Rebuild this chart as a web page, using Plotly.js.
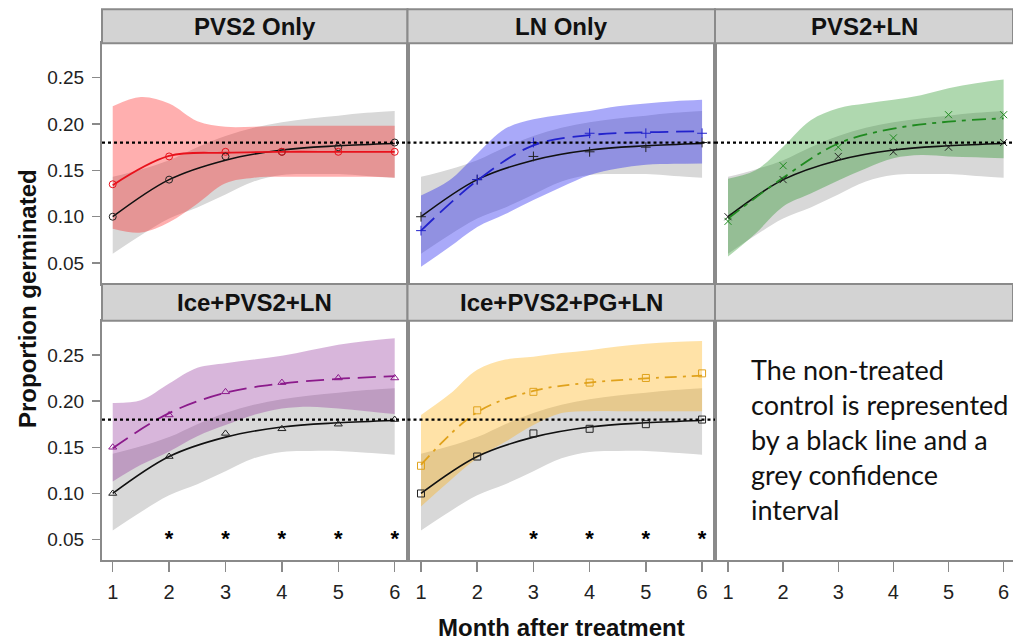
<!DOCTYPE html>
<html><head><meta charset="utf-8">
<script src="https://cdn.plot.ly/plotly-3.0.1.min.js"></script>
<style>html,body{margin:0;padding:0;background:#fff;overflow:hidden}</style>
</head><body><div id="chart" style="width:1013px;height:643px"></div>
<script>
// ---------- data ----------
const months = [1, 2, 3, 4, 5, 6];
const bandMonths = [1, 1.5, 2, 2.5, 3, 3.5, 4, 4.5, 5, 5.5, 6];
const panelTitles = ['PVS2 Only', 'LN Only', 'PVS2+LN', 'Ice+PVS2+LN', 'Ice+PVS2+PG+LN'];
const yTickVals = [0.05, 0.10, 0.15, 0.20, 0.25];
const yTickText = ['0.05', '0.10', '0.15', '0.20', '0.25'];
const refLevel = 0.18;

const controlObs = [0.10, 0.14, 0.165, 0.17, 0.175, 0.18];
const controlFit = [0.100, 0.140, 0.161, 0.172, 0.1765, 0.179];
const controlUpper = [0.143, 0.151, 0.161, 0.175, 0.187, 0.196, 0.202, 0.206, 0.209, 0.212, 0.214];
const controlLower = [0.060, 0.080, 0.098, 0.110, 0.124, 0.138, 0.145, 0.146, 0.146, 0.144, 0.142];

const pvs2Obs = [0.135, 0.165, 0.17, 0.17, 0.17, 0.17];
const pvs2Fit = [0.134, 0.1655, 0.169, 0.17, 0.17, 0.17];
const pvs2Upper = [0.219, 0.229, 0.222, 0.203, 0.197, 0.197, 0.198, 0.198, 0.198, 0.198, 0.198];
const pvs2Lower = [0.087, 0.083, 0.094, 0.114, 0.136, 0.142, 0.143, 0.143, 0.143, 0.143, 0.142];

const lnObs = [0.085, 0.14, 0.18, 0.19, 0.19, 0.19];
const lnFit = [0.085, 0.139, 0.177, 0.188, 0.191, 0.192];
const lnUpper = [0.123, 0.139, 0.168, 0.195, 0.205, 0.210, 0.214, 0.219, 0.222, 0.2245, 0.226];
const lnLower = [0.046, 0.067, 0.089, 0.103, 0.118, 0.132, 0.145, 0.152, 0.156, 0.157, 0.1575];

const pvs2lnObs = [0.095, 0.155, 0.175, 0.185, 0.21, 0.21];
const pvs2lnFit = [0.098, 0.142, 0.179, 0.195, 0.2025, 0.206];
const pvs2lnUpper = [0.141, 0.150, 0.1755, 0.204, 0.217, 0.222, 0.226, 0.231, 0.2385, 0.244, 0.248];
const pvs2lnLower = [0.057, 0.082, 0.111, 0.125, 0.139, 0.152, 0.163, 0.1665, 0.165, 0.164, 0.163];

const iceLnObs = [0.15, 0.185, 0.21, 0.22, 0.225, 0.225];
const iceLnFit = [0.149, 0.187, 0.209, 0.219, 0.224, 0.227];
const iceLnUpper = [0.198, 0.201, 0.219, 0.236, 0.241, 0.245, 0.249, 0.255, 0.261, 0.265, 0.268];
const iceLnLower = [0.113, 0.131, 0.1455, 0.162, 0.174, 0.185, 0.192, 0.194, 0.192, 0.189, 0.186];

const icePgObs = [0.13, 0.19, 0.21, 0.22, 0.225, 0.23];
const icePgFit = [0.131, 0.188, 0.211, 0.220, 0.2245, 0.2275];
const icePgUpper = [0.185, 0.207, 0.234, 0.245, 0.248, 0.252, 0.255, 0.259, 0.262, 0.264, 0.265];
const icePgLower = [0.086, 0.113, 0.138, 0.156, 0.174, 0.187, 0.189, 0.189, 0.189, 0.189, 0.189];

const sigMonthsIceLn = [2, 3, 4, 5, 6];
const sigMonthsIcePg = [3, 4, 5, 6];
const sigLevel = 0.049;

const noteText = 'The non-treated<br>control is represented<br>by a black line and a<br>grey confidence<br>interval';
const xTitle = 'Month after treatment';
const yTitle = 'Proportion germinated';

// ---------- styles ----------
const series = [
  {obs: pvs2Obs, fit: pvs2Fit, up: pvs2Upper, lo: pvs2Lower, color: '#e8121c', fill: 'rgba(255,20,20,0.34)', dash: 'solid', sym: 'circle-open'},
  {obs: lnObs, fit: lnFit, up: lnUpper, lo: lnLower, color: '#2222cc', fill: 'rgba(30,30,240,0.38)', dash: '18px,8px', sym: 'cross-thin-open'},
  {obs: pvs2lnObs, fit: pvs2lnFit, up: pvs2lnUpper, lo: pvs2lnLower, color: '#1f8a1f', fill: 'rgba(20,140,20,0.34)', dash: '14px,6px,4px,6px', sym: 'x-thin-open'},
  {obs: iceLnObs, fit: iceLnFit, up: iceLnUpper, lo: iceLnLower, color: '#8b1a8b', fill: 'rgba(140,40,150,0.34)', dash: '18px,8px', sym: 'triangle-up-open'},
  {obs: icePgObs, fit: icePgFit, up: icePgUpper, lo: icePgLower, color: '#e0a21c', fill: 'rgba(255,175,10,0.36)', dash: '12px,6px,3px,6px', sym: 'square-open'}
];
const sigByPanel = {3: sigMonthsIceLn, 4: sigMonthsIcePg};

const W = 1013, H = 643;
const px = v => v / W;
const py = v => (H - v) / H;
const colX = [[102, 407.5], [407.5, 715], [715, 1013]];
const colRange = [[0.81, 6.227], [0.76, 6.23], [0.764, 6.17]];
const rowY = [[43.3, 283.5], [320.7, 560]];
const stripY = [[9.3, 43.3], [284, 320.7]];
const yRange = [0.028, 0.287];
const border = '#8a8a8a';
const FONT = 'Liberation Sans, Arial, sans-serif';

const traces = [];
const layout = {
  width: W, height: H, margin: {l: 0, r: 0, t: 0, b: 0},
  paper_bgcolor: '#fff', plot_bgcolor: '#fff', showlegend: false,
  font: {family: FONT, color: '#111'},
  shapes: [], annotations: []
};

for (let p = 0; p < 6; p++) {
  const row = Math.floor(p / 3), col = p % 3;
  const id = p === 0 ? '' : String(p + 1);
  const xa = 'x' + id, ya = 'y' + id;
  layout['xaxis' + id] = {
    domain: [px(colX[col][0]), px(colX[col][1])], range: colRange[col], anchor: ya,
    showline: true, mirror: true, linecolor: border, linewidth: 2,
    showgrid: false, zeroline: false, tickvals: months,
    ticks: row === 1 ? 'outside' : '', ticklen: 10, tickwidth: 1.5, tickcolor: border,
    showticklabels: row === 1, ticklabelstandoff: 3, ticklabeloverflow: 'allow',
    tickfont: {family: FONT, size: 20, color: '#222'}
  };
  layout['yaxis' + id] = {
    domain: [py(rowY[row][1]), py(rowY[row][0])], range: yRange, anchor: xa,
    showline: true, mirror: true, linecolor: border, linewidth: 2,
    showgrid: false, zeroline: false, tickvals: yTickVals, ticktext: yTickText,
    ticks: col === 0 ? 'outside' : '', ticklen: 8, tickwidth: 1.5, tickcolor: border,
    showticklabels: col === 0, ticklabelstandoff: 4,
    tickfont: {family: FONT, size: 19, color: '#222'}
  };
  layout.shapes.push({type: 'rect', xref: 'paper', yref: 'paper',
    x0: px(colX[col][0]), x1: px(colX[col][1]), y0: py(stripY[row][1]), y1: py(stripY[row][0]),
    fillcolor: '#d3d3d3', line: {color: border, width: 2}, layer: 'above'});
  if (p < 5) {
    layout.annotations.push({xref: 'paper', yref: 'paper', showarrow: false,
      x: px((colX[col][0] + colX[col][1]) / 2), y: py((stripY[row][0] + stripY[row][1]) / 2),
      xanchor: 'center', yanchor: 'middle', text: panelTitles[p],
      font: {family: FONT, size: 24, color: '#111', weight: 'bold'}});
    layout.shapes.push({type: 'line', xref: xa + ' domain', yref: ya, x0: 0, x1: 1, y0: refLevel, y1: refLevel,
      line: {color: '#000', width: 2.2, dash: 'dot'}, layer: 'above'});
    const s = series[p];
    traces.push({x: bandMonths, y: controlUpper, xaxis: xa, yaxis: ya, mode: 'lines',
      line: {width: 0, shape: 'spline', smoothing: 1}, hoverinfo: 'skip'});
    traces.push({x: bandMonths, y: controlLower, xaxis: xa, yaxis: ya, mode: 'lines', fill: 'tonexty',
      fillcolor: '#d8d8d8', line: {width: 0, shape: 'spline', smoothing: 1}, hoverinfo: 'skip'});
    traces.push({x: bandMonths, y: s.up, xaxis: xa, yaxis: ya, mode: 'lines',
      line: {width: 0, shape: 'spline', smoothing: 1}, hoverinfo: 'skip'});
    traces.push({x: bandMonths, y: s.lo, xaxis: xa, yaxis: ya, mode: 'lines', fill: 'tonexty',
      fillcolor: s.fill, line: {width: 0, shape: 'spline', smoothing: 1}, hoverinfo: 'skip'});
    traces.push({x: months, y: controlFit, xaxis: xa, yaxis: ya, mode: 'lines',
      line: {color: '#111', width: 1.6, shape: 'spline', smoothing: 1}});
    traces.push({x: months, y: s.fit, xaxis: xa, yaxis: ya, mode: 'lines',
      line: {color: s.color, width: 1.8, dash: s.dash, shape: 'spline', smoothing: 1}});
    traces.push({x: months, y: controlObs, xaxis: xa, yaxis: ya, mode: 'markers',
      marker: {symbol: s.sym, size: 7, color: '#222', line: {width: 1, color: '#222'}}});
    traces.push({x: months, y: s.obs, xaxis: xa, yaxis: ya, mode: 'markers',
      marker: {symbol: s.sym, size: 7, color: s.color, line: {width: 1, color: s.color}}});
    if (sigByPanel[p]) {
      const m = sigByPanel[p];
      traces.push({x: m, y: m.map(() => sigLevel), xaxis: xa, yaxis: ya, mode: 'text',
        text: m.map(() => '*'), textposition: 'middle center',
        textfont: {family: FONT, size: 22, color: '#000', weight: 'bold'}});
    }
  } else {
    traces.push({x: [], y: [], xaxis: xa, yaxis: ya, mode: 'markers'});
  }
}

layout.annotations.push({xref: 'paper', yref: 'paper', showarrow: false,
  x: px(749), y: py(439), xanchor: 'left', yanchor: 'middle', align: 'left',
  text: noteText, font: {family: 'Lato, Open Sans, sans-serif', size: 27, color: '#111'}});
layout.annotations.push({xref: 'paper', yref: 'paper', showarrow: false,
  x: px(561), y: py(627), xanchor: 'center', yanchor: 'middle', text: xTitle,
  font: {family: FONT, size: 24, color: '#111', weight: 'bold'}});
layout.annotations.push({xref: 'paper', yref: 'paper', showarrow: false,
  x: px(27), y: py(299), xanchor: 'center', yanchor: 'middle', textangle: -90, text: yTitle,
  font: {family: FONT, size: 24, color: '#111', weight: 'bold'}});

Plotly.newPlot('chart', traces, layout, {displayModeBar: false, staticPlot: true});
</script>
</body></html>
